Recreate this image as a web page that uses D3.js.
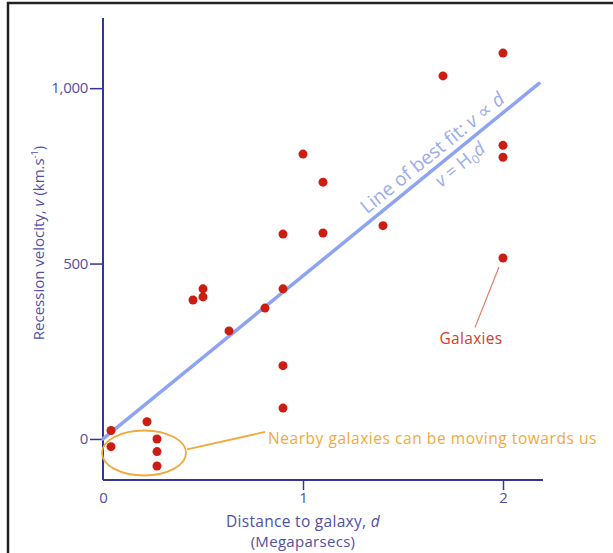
<!DOCTYPE html>
<html>
<head>
<meta charset="utf-8">
<script src="https://cdn.jsdelivr.net/npm/d3@7"></script>
<style>
  body { margin: 0; background: #fff; }
  text { font-family: "Open Sans", "Noto Sans", sans-serif; }
</style>
</head>
<body>
<div id="chart"></div>
<script>
// galaxies: distance (Mpc) and recession velocity (km/s)
const distances = [2.0, 1.70, 1.0, 1.10, 2.0, 2.0, 0.9, 1.1, 1.4, 2.0, 0.5, 0.5, 0.45, 0.9, 0.81, 0.63, 0.9, 0.9, 0.22, 0.04, 0.04, 0.27, 0.27, 0.27];
const velocities = [1100, 1035, 812, 732, 837, 803, 584, 587, 608, 516, 428, 405, 396, 428, 373, 308, 209, 88, 49, 24, -22, 0, -36, -77];

const xTicks = [0, 1, 2];
const yTicks = [0, 500, 1000];
const xExtent = [0, 2.2];
const yExtent = [-117, 1200];

// line of best fit v = H0 * d
const fitSlope = 465;
const fitRange = [0, 2.18];

const width = 613, height = 553;
const axisColor = '#34349a';
const labelColor = '#5050a6';

let svg = d3.select('#chart').append('svg')
        .attr('width', width)
        .attr('height', height);

// frame
svg.append('rect')
        .attr('x', 8).attr('y', 3)
        .attr('width', 640).attr('height', 600)
        .attr('fill', 'none')
        .attr('stroke', '#222')
        .attr('stroke-width', 2.5);

let x = d3.scaleLinear().domain(xExtent).range([103, 543]);
let y = d3.scaleLinear().domain(yExtent).range([480, 18]);

// y axis
let yAxis = svg.append('g')
        .attr('transform', 'translate(' + x(0) + ',0)')
        .call(d3.axisLeft(y).tickValues(yTicks).tickSize(13).tickPadding(2)
                .tickFormat(d3.format(',')));
yAxis.select('.domain').remove();
yAxis.selectAll('line').attr('stroke', axisColor).attr('stroke-width', 1.5);
yAxis.selectAll('text').attr('fill', labelColor).style('font-size', '15px')
        .style('font-family', '"Open Sans", sans-serif').style('letter-spacing', '-0.3px');

// x axis
let xAxis = svg.append('g')
        .attr('transform', 'translate(0,' + y(yExtent[0]) + ')')
        .call(d3.axisBottom(x).tickValues(xTicks).tickSize(10).tickPadding(2)
                .tickFormat(d3.format('d')));
xAxis.select('.domain').remove();
xAxis.selectAll('line').attr('stroke', axisColor).attr('stroke-width', 1.5)
        .attr('opacity', function (d) { return d === 0 ? 0 : 1; });
xAxis.selectAll('text').attr('fill', labelColor).style('font-size', '15px')
        .style('font-family', '"Open Sans", sans-serif');

// axis lines
svg.append('line')
        .attr('x1', x(0)).attr('x2', x(0))
        .attr('y1', y(yExtent[1])).attr('y2', y(yExtent[0]))
        .attr('stroke', axisColor).attr('stroke-width', 2);
svg.append('line')
        .attr('x1', x(0)).attr('x2', x(xExtent[1]))
        .attr('y1', y(yExtent[0])).attr('y2', y(yExtent[0]))
        .attr('stroke', axisColor).attr('stroke-width', 2);

// axis titles
let xt = svg.append('text')
        .attr('x', x(1)).attr('y', 527)
        .attr('text-anchor', 'middle')
        .attr('fill', labelColor).style('font-size', '15.5px')
        .style('letter-spacing', '0.3px');
xt.append('tspan').text('Distance to galaxy, ');
xt.append('tspan').style('font-style', 'italic').text('d');
svg.append('text')
        .attr('x', x(1)).attr('y', 547)
        .attr('text-anchor', 'middle')
        .attr('fill', labelColor).style('font-size', '15px')
        .style('letter-spacing', '0.3px')
        .text('(Megaparsecs)');

let yt = svg.append('text')
        .attr('transform', 'translate(44,243) rotate(-90)')
        .attr('text-anchor', 'middle')
        .attr('fill', labelColor).style('font-size', '15px');
yt.append('tspan').text('Recession velocity, ');
yt.append('tspan').style('font-style', 'italic').text('v');
yt.append('tspan').text(' (km.s');
yt.append('tspan').attr('dy', -6).style('font-size', '9px').text('-1');
yt.append('tspan').attr('dy', 6).text(')');

// best fit line
let fitColor = '#8ea4f2';
svg.append('line')
        .attr('x1', x(fitRange[0])).attr('y1', y(fitSlope * fitRange[0]))
        .attr('x2', x(fitRange[1])).attr('y2', y(fitSlope * fitRange[1]))
        .attr('stroke', fitColor)
        .attr('stroke-width', 3.5)
        .attr('stroke-linecap', 'round');

let angle = Math.atan2(y(fitSlope * fitRange[1]) - y(0), x(fitRange[1]) - x(0)) * 180 / Math.PI;
let labelD = 1.69;
let fitLabel = svg.append('g')
        .attr('transform', 'translate(' + x(labelD) + ',' + y(fitSlope * labelD) + ') rotate(' + angle + ')');
let t1 = fitLabel.append('text')
        .attr('y', -7)
        .attr('text-anchor', 'middle')
        .attr('fill', '#9aabee').style('font-size', '19px');
t1.append('tspan').text('Line of best fit: ');
t1.append('tspan').style('font-style', 'italic').text('v');
t1.append('tspan').text(' \u221d ');
t1.append('tspan').style('font-style', 'italic').text('d');
let t2 = fitLabel.append('text')
        .attr('x', 14).attr('y', 19)
        .attr('text-anchor', 'middle')
        .attr('fill', '#9aabee').style('font-size', '18px');
t2.append('tspan').style('font-style', 'italic').text('v');
t2.append('tspan').text(' = H');
t2.append('tspan').attr('dy', 4).style('font-size', '12px').text('0');
t2.append('tspan').attr('dy', -4).style('font-style', 'italic').text('d');

// nearby ellipse + label
let nearColor = '#f2a93b';
svg.append('ellipse')
        .attr('cx', x(0.205)).attr('cy', y(-40))
        .attr('rx', 42).attr('ry', 22.5)
        .attr('fill', 'none')
        .attr('stroke', nearColor).attr('stroke-width', 1.8);
svg.append('line')
        .attr('x1', x(0.42)).attr('y1', y(-30))
        .attr('x2', x(0.81)).attr('y2', y(20))
        .attr('stroke', nearColor).attr('stroke-width', 1.8);
svg.append('text')
        .attr('x', 268).attr('y', y(0) + 5)
        .attr('fill', nearColor).style('font-size', '15.5px')
        .style('letter-spacing', '0.55px')
        .text('Nearby galaxies can be moving towards us');

// galaxies label
let galColor = '#d0402e';
svg.append('line')
        .attr('x1', x(1.98)).attr('y1', y(490))
        .attr('x2', x(1.86)).attr('y2', y(318))
        .attr('stroke', '#e07a6e').attr('stroke-width', 1.2);
svg.append('text')
        .attr('x', 471).attr('y', 344)
        .attr('text-anchor', 'middle')
        .attr('fill', galColor).style('font-size', '15.5px')
        .style('letter-spacing', '0.3px')
        .text('Galaxies');

// dots
svg.append('g')
        .selectAll('circle')
        .data(distances)
        .enter()
        .append('circle')
        .attr('cx', function (d) { return x(d); })
        .attr('cy', function (d, i) { return y(velocities[i]); })
        .attr('r', 4.5)
        .attr('fill', '#cc1d12');
</script>
</body>
</html>
